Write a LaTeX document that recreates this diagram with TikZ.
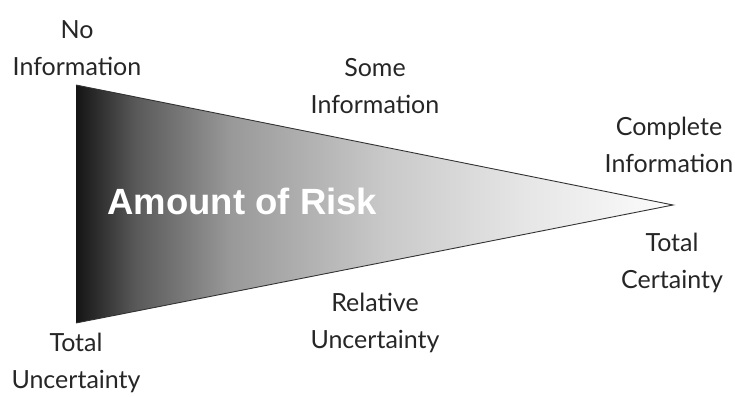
\documentclass[tikz,border=0pt]{standalone}
\usepackage{fontspec}
\setmainfont{Lato}
\newfontfamily\riskfont{Liberation Sans}
\definecolor{gA}{gray}{0.08}
\definecolor{gB}{gray}{0.35}
\definecolor{gC}{gray}{0.60}
\definecolor{gD}{gray}{0.79}
\definecolor{gE}{gray}{0.90}
\definecolor{gF}{gray}{0.99}
\pgfdeclarehorizontalshading{riskshade}{100bp}{color(0bp)=(gA); color(25bp)=(gA); color(30bp)=(gB); color(38bp)=(gC); color(51bp)=(gD); color(62.5bp)=(gE); color(75bp)=(gF); color(100bp)=(gF)}
\begin{document}
\begin{tikzpicture}[x=1pt,y=-1pt,
  lbl/.style={align=center,inner sep=0pt,font=\fontsize{25}{37}\selectfont,text=black!85}]
\useasboundingbox (0,0) rectangle (735,396);
\coordinate (tl) at (76,85);
\coordinate (bl) at (76,323);
\coordinate (tip) at (673,205);
\shade[shading=riskshade] (tl) -- (tip) -- (bl) -- cycle;
\draw[line width=0.9pt,black!80] (tl) -- (tip) -- (bl);
\node[font=\riskfont\bfseries\fontsize{36.5}{40}\selectfont,text=white,anchor=base west] (risk) at (104,214) {Amount of Risk};
\node[lbl] (noinfo) at (77,48) {No\\Information};
\node[lbl] (someinfo) at (375,86) {Some\\Information};
\node[lbl] (compinfo) at (669,145) {Complete\\Information};
\node[lbl] (totcert) at (672,263) {Total\\Certainty};
\node[lbl] (reluncert) at (375,323) {Relative\\Uncertainty};
\node[lbl] (totuncert) at (76,363) {Total\\Uncertainty};
\end{tikzpicture}
\end{document}
